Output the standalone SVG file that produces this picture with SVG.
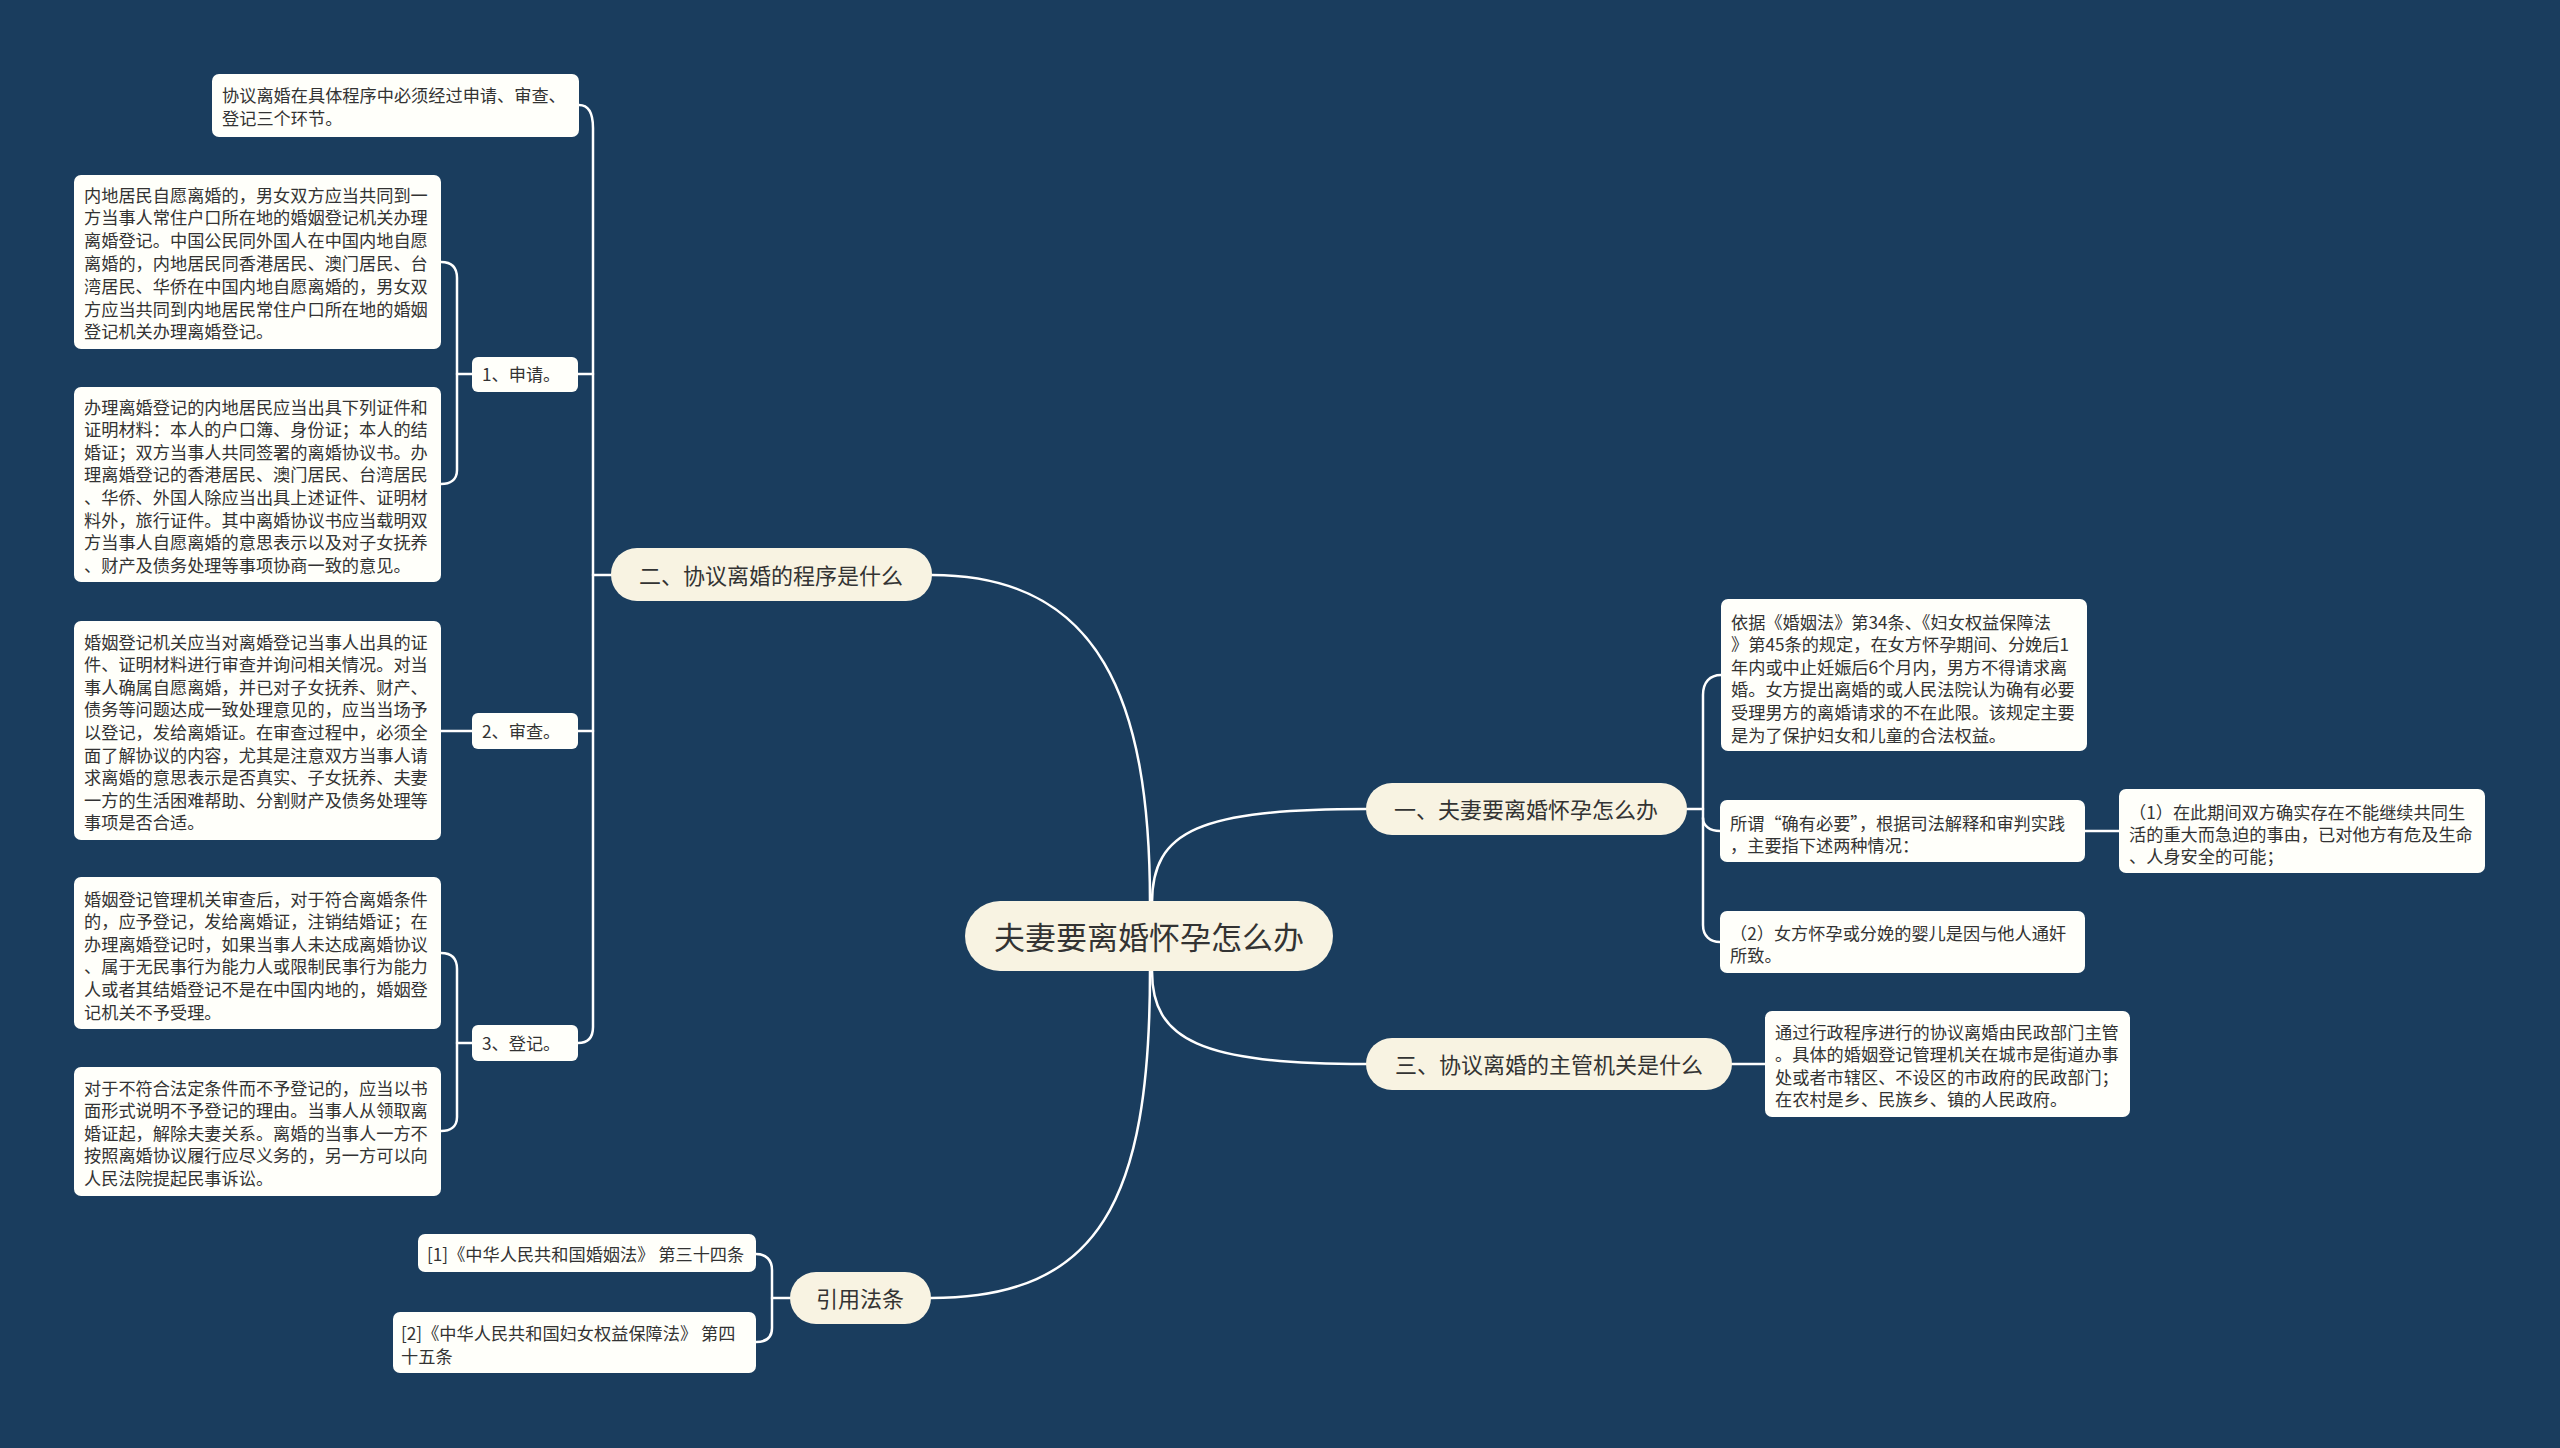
<svg xmlns="http://www.w3.org/2000/svg" width="2560" height="1448" viewBox="0 0 2560 1448">
<style>
.bg{fill:#1a3d5e}
.pill{fill:#f8f3e2}
.box{fill:#fffffa}
.t{font-family:"Noto Sans CJK SC","Noto Sans",sans-serif;fill:#333333;dominant-baseline:central}
.s{font-size:17.2px}
.m{font-size:22px;text-anchor:middle}
.c{font-size:31px;text-anchor:middle}
.ln{fill:none;stroke:#ffffff;stroke-width:2.5;stroke-linecap:round}
</style>
<rect class="bg" x="0" y="0" width="2560" height="1448"/>
<g id="connectors">
<path class="ln" d="M1150,903 C1150,700 1100,575 932,575"/>
<path class="ln" d="M1152,903 C1152,830 1200,809 1366,809"/>
<path class="ln" d="M1152,971 C1152,1040 1200,1064 1366,1064"/>
<path class="ln" d="M1150,971 C1150,1200 1100,1298 931,1298"/>
<path class="ln" d="M579,105 C588,105 593,112 593,128 L593,1027 C593,1038 588,1043 578,1043"/>
<path class="ln" d="M611,575 L593,575"/>
<path class="ln" d="M578,374 L593,374"/>
<path class="ln" d="M578,731 L593,731"/>
<path class="ln" d="M441,262 C450,262 457,266 457,278 L457,470 C457,480 450,484 441,484"/>
<path class="ln" d="M472,374 L457,374"/>
<path class="ln" d="M472,731 L441,731"/>
<path class="ln" d="M441,953 C450,953 457,957 457,969 L457,1117 C457,1127 450,1131 441,1131"/>
<path class="ln" d="M472,1043 L457,1043"/>
<path class="ln" d="M1721,675 C1710,675 1703,682 1703,695 L1703,925 C1703,936 1710,942 1720,942"/>
<path class="ln" d="M1687,809 L1703,809"/>
<path class="ln" d="M1703,818 C1703,826 1710,831 1720,831"/>
<path class="ln" d="M2085,831 L2119,831"/>
<path class="ln" d="M1732,1064 L1765,1064"/>
<path class="ln" d="M756,1254 C766,1254 772,1260 772,1270 L772,1328 C772,1338 766,1342 756,1342"/>
<path class="ln" d="M790,1298 L772,1298"/>
</g>
<g id="center">
<rect class="pill" x="965" y="901" width="368" height="70" rx="35"/>
<text class="t c" x="1149" y="935">夫妻要离婚怀孕怎么办</text>
</g>
<g id="n2">
<rect class="pill" x="611" y="548" width="321" height="53" rx="26"/>
<text class="t m" x="771" y="574">二、协议离婚的程序是什么</text>
</g>
<g id="n1">
<rect class="pill" x="1366" y="783" width="321" height="52" rx="26"/>
<text class="t m" x="1526" y="808">一、夫妻要离婚怀孕怎么办</text>
</g>
<g id="n3">
<rect class="pill" x="1366" y="1038" width="366" height="52" rx="26"/>
<text class="t m" x="1549" y="1063">三、协议离婚的主管机关是什么</text>
</g>
<g id="n4">
<rect class="pill" x="790" y="1272" width="141" height="52" rx="26"/>
<text class="t m" x="860" y="1297">引用法条</text>
</g>
<g id="b1">
<rect class="box" x="212" y="74" width="367" height="63" rx="7"/>
<text class="t s" x="222" y="94">协议离婚在具体程序中必须经过申请、审查、</text>
<text class="t s" x="222" y="117">登记三个环节。</text>
</g>
<g id="l1">
<rect class="box" x="472" y="357" width="106" height="35" rx="6"/>
<text class="t s" x="482" y="373.5">1、申请。</text>
</g>
<g id="l2">
<rect class="box" x="472" y="713" width="106" height="36" rx="6"/>
<text class="t s" x="482" y="730">2、审查。</text>
</g>
<g id="l3">
<rect class="box" x="472" y="1025" width="106" height="36" rx="6"/>
<text class="t s" x="482" y="1042">3、登记。</text>
</g>
<g id="b2">
<rect class="box" x="74" y="175" width="367" height="174" rx="7"/>
<text class="t s" x="84" y="194">内地居民自愿离婚的，男女双方应当共同到一</text>
<text class="t s" x="84" y="216.8">方当事人常住户口所在地的婚姻登记机关办理</text>
<text class="t s" x="84" y="239.6">离婚登记。中国公民同外国人在中国内地自愿</text>
<text class="t s" x="84" y="262.4">离婚的，内地居民同香港居民、澳门居民、台</text>
<text class="t s" x="84" y="285.2">湾居民、华侨在中国内地自愿离婚的，男女双</text>
<text class="t s" x="84" y="308">方应当共同到内地居民常住户口所在地的婚姻</text>
<text class="t s" x="84" y="330.8">登记机关办理离婚登记。</text>
</g>
<g id="b3">
<rect class="box" x="74" y="387" width="367" height="195" rx="7"/>
<text class="t s" x="84" y="406">办理离婚登记的内地居民应当出具下列证件和</text>
<text class="t s" x="84" y="428.6">证明材料：本人的户口簿、身份证；本人的结</text>
<text class="t s" x="84" y="451.2">婚证；双方当事人共同签署的离婚协议书。办</text>
<text class="t s" x="84" y="473.8">理离婚登记的香港居民、澳门居民、台湾居民</text>
<text class="t s" x="84" y="496.4">、华侨、外国人除应当出具上述证件、证明材</text>
<text class="t s" x="84" y="519">料外，旅行证件。其中离婚协议书应当载明双</text>
<text class="t s" x="84" y="541.6">方当事人自愿离婚的意思表示以及对子女抚养</text>
<text class="t s" x="84" y="564.2">、财产及债务处理等事项协商一致的意见。</text>
</g>
<g id="b4">
<rect class="box" x="74" y="621" width="367" height="219" rx="7"/>
<text class="t s" x="84" y="641">婚姻登记机关应当对离婚登记当事人出具的证</text>
<text class="t s" x="84" y="663.6">件、证明材料进行审查并询问相关情况。对当</text>
<text class="t s" x="84" y="686.2">事人确属自愿离婚，并已对子女抚养、财产、</text>
<text class="t s" x="84" y="708.8">债务等问题达成一致处理意见的，应当当场予</text>
<text class="t s" x="84" y="731.4">以登记，发给离婚证。在审查过程中，必须全</text>
<text class="t s" x="84" y="754">面了解协议的内容，尤其是注意双方当事人请</text>
<text class="t s" x="84" y="776.6">求离婚的意思表示是否真实、子女抚养、夫妻</text>
<text class="t s" x="84" y="799.2">一方的生活困难帮助、分割财产及债务处理等</text>
<text class="t s" x="84" y="821.8">事项是否合适。</text>
</g>
<g id="b5">
<rect class="box" x="74" y="877" width="367" height="152" rx="7"/>
<text class="t s" x="84" y="898">婚姻登记管理机关审查后，对于符合离婚条件</text>
<text class="t s" x="84" y="920.6">的，应予登记，发给离婚证，注销结婚证；在</text>
<text class="t s" x="84" y="943.2">办理离婚登记时，如果当事人未达成离婚协议</text>
<text class="t s" x="84" y="965.8">、属于无民事行为能力人或限制民事行为能力</text>
<text class="t s" x="84" y="988.4">人或者其结婚登记不是在中国内地的，婚姻登</text>
<text class="t s" x="84" y="1011">记机关不予受理。</text>
</g>
<g id="b6">
<rect class="box" x="74" y="1067" width="367" height="129" rx="7"/>
<text class="t s" x="84" y="1087">对于不符合法定条件而不予登记的，应当以书</text>
<text class="t s" x="84" y="1109.6">面形式说明不予登记的理由。当事人从领取离</text>
<text class="t s" x="84" y="1132.2">婚证起，解除夫妻关系。离婚的当事人一方不</text>
<text class="t s" x="84" y="1154.8">按照离婚协议履行应尽义务的，另一方可以向</text>
<text class="t s" x="84" y="1177.4">人民法院提起民事诉讼。</text>
</g>
<g id="r1">
<rect class="box" x="1721" y="599" width="366" height="152" rx="7"/>
<text class="t s" x="1731" y="621">依据《婚姻法》第34条、《妇女权益保障法</text>
<text class="t s" x="1731" y="643.6">》第45条的规定，在女方怀孕期间、分娩后1</text>
<text class="t s" x="1731" y="666.2">年内或中止妊娠后6个月内，男方不得请求离</text>
<text class="t s" x="1731" y="688.8">婚。女方提出离婚的或人民法院认为确有必要</text>
<text class="t s" x="1731" y="711.4">受理男方的离婚请求的不在此限。该规定主要</text>
<text class="t s" x="1731" y="734">是为了保护妇女和儿童的合法权益。</text>
</g>
<g id="r2">
<rect class="box" x="1720" y="800" width="365" height="62" rx="7"/>
<text class="t s" x="1730" y="822">所谓“确有必要”，根据司法解释和审判实践</text>
<text class="t s" x="1730" y="844.6">，主要指下述两种情况：</text>
</g>
<g id="r3">
<rect class="box" x="2119" y="789" width="366" height="84" rx="7"/>
<text class="t s" x="2129" y="811">（1）在此期间双方确实存在不能继续共同生</text>
<text class="t s" x="2129" y="833">活的重大而急迫的事由，已对他方有危及生命</text>
<text class="t s" x="2129" y="855">、人身安全的可能；</text>
</g>
<g id="r4">
<rect class="box" x="1720" y="911" width="365" height="62" rx="7"/>
<text class="t s" x="1730" y="932">（2）女方怀孕或分娩的婴儿是因与他人通奸</text>
<text class="t s" x="1730" y="954.6">所致。</text>
</g>
<g id="r5">
<rect class="box" x="1765" y="1011" width="365" height="106" rx="7"/>
<text class="t s" x="1775" y="1031">通过行政程序进行的协议离婚由民政部门主管</text>
<text class="t s" x="1775" y="1053.6">。具体的婚姻登记管理机关在城市是街道办事</text>
<text class="t s" x="1775" y="1076.2">处或者市辖区、不设区的市政府的民政部门；</text>
<text class="t s" x="1775" y="1098.8">在农村是乡、民族乡、镇的人民政府。</text>
</g>
<g id="c1">
<rect class="box" x="418" y="1234" width="338" height="38" rx="7"/>
<text class="t s" x="427" y="1253">[1]《中华人民共和国婚姻法》 第三十四条</text>
</g>
<g id="c2">
<rect class="box" x="393" y="1312" width="363" height="61" rx="7"/>
<text class="t s" x="401" y="1332">[2]《中华人民共和国妇女权益保障法》 第四</text>
<text class="t s" x="401" y="1355">十五条</text>
</g>
</svg>
